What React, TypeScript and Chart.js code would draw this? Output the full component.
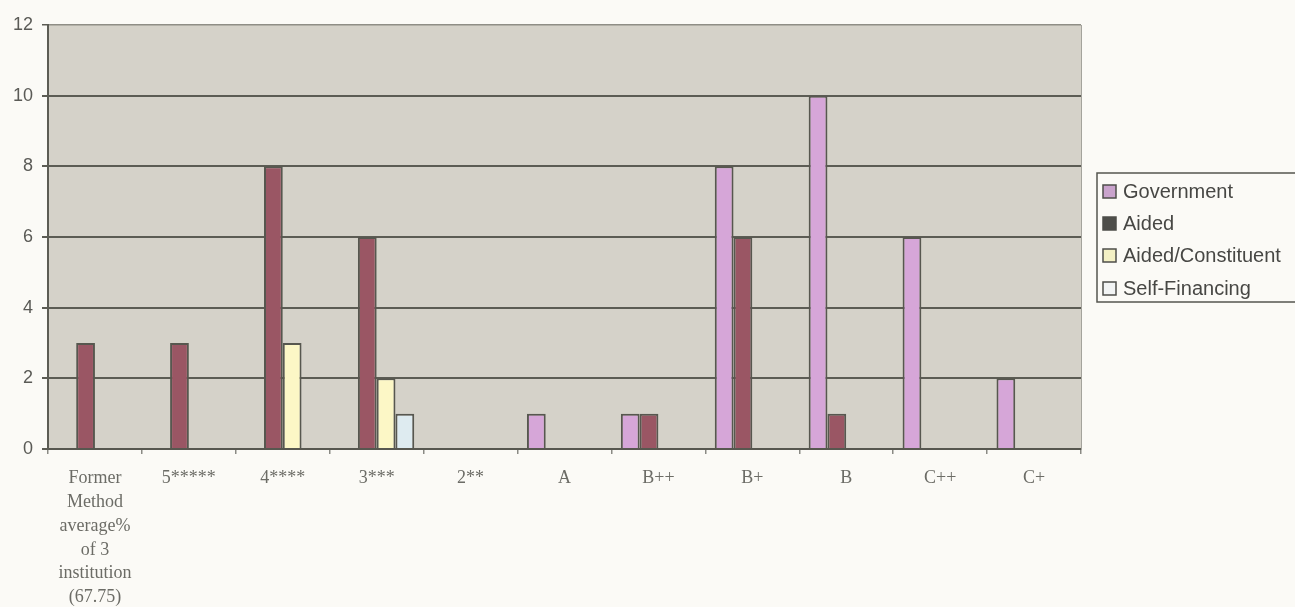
import React, { useEffect, useRef } from "react";
import { Chart, registerables } from "chart.js";

Chart.register(...registerables);

const categories: (string | string[])[] = [
  ["Former", "Method", "average%", "of 3", "institution", "(67.75)"],
  "5*****",
  "4****",
  "3***",
  "2**",
  "A",
  "B++",
  "B+",
  "B",
  "C++",
  "C+",
];

const government = [0, 0, 0, 0, 0, 1, 1, 8, 10, 6, 2];
const aided = [3, 3, 8, 6, 0, 0, 1, 6, 1, 0, 0];
const aidedConstituent = [0, 0, 3, 2, 0, 0, 0, 0, 0, 0, 0];
const selfFinancing = [0, 0, 0, 1, 0, 0, 0, 0, 0, 0, 0];

const yTicks = [0, 2, 4, 6, 8, 10, 12];

const seriesNames = ["Government", "Aided", "Aided/Constituent", "Self-Financing"];
const seriesColors = ["#d6a6d8", "#9a5664", "#fcf7c6", "#deebf0"];
const legendMarkerColors = ["#c9a3cc", "#4e4e4a", "#f3f0c4", "#f2f4f4"];

const nz = (arr: number[]) => arr.map((v) => (v === 0 ? null : v));

export default function App() {
  const ref = useRef<HTMLCanvasElement | null>(null);

  useEffect(() => {
    if (!ref.current) return;

    const plotBg = {
      id: "plotBg",
      beforeDraw(chart: any) {
        const { ctx, chartArea } = chart;
        ctx.save();
        ctx.fillStyle = "#d5d2c9";
        ctx.fillRect(chartArea.left, chartArea.top, chartArea.right - chartArea.left, chartArea.bottom - chartArea.top);
        ctx.restore();
      },
      afterDraw(chart: any) {
        const { ctx, chartArea } = chart;
        ctx.save();
        ctx.strokeStyle = "#a4a39c";
        ctx.lineWidth = 1;
        ctx.beginPath();
        ctx.moveTo(chartArea.right + 0.5, chartArea.top);
        ctx.lineTo(chartArea.right + 0.5, chartArea.bottom);
        ctx.stroke();

        const x0 = 1097;
        const y0 = 173;
        const y1 = 302;
        ctx.strokeStyle = "#55554f";
        ctx.lineWidth = 1.5;
        ctx.strokeRect(x0, y0, 1300 - x0, y1 - y0);
        ctx.font = "20px 'Liberation Sans', Arial, sans-serif";
        ctx.textBaseline = "middle";
        const ys = [191, 223, 255, 288];
        chart.data.datasets.forEach((ds: any, i: number) => {
          const y = ys[i];
          ctx.fillStyle = legendMarkerColors[i];
          ctx.fillRect(x0 + 6, y - 6, 13, 13);
          ctx.strokeStyle = "#4e4e4a";
          ctx.lineWidth = 1.5;
          ctx.strokeRect(x0 + 6, y - 6, 13, 13);
          ctx.fillStyle = "#474744";
          ctx.fillText(ds.label, x0 + 26, y + 1);
        });
        ctx.restore();
      },
    };

    const chart = new Chart(ref.current, {
      type: "bar",
      data: {
        labels: categories,
        datasets: [
          { label: seriesNames[0], data: nz(government), backgroundColor: seriesColors[0] },
          { label: seriesNames[1], data: nz(aided), backgroundColor: seriesColors[1] },
          { label: seriesNames[2], data: nz(aidedConstituent), backgroundColor: seriesColors[2] },
          { label: seriesNames[3], data: nz(selfFinancing), backgroundColor: seriesColors[3] },
        ].map((d) => ({
          ...d,
          borderColor: "#57574f",
          borderWidth: 2,
          categoryPercentage: 0.8,
          barPercentage: 1.0,
        })),
      },
      options: {
        animation: false,
        responsive: false,
        maintainAspectRatio: false,
        layout: { padding: { left: 0, right: 214, top: 25, bottom: 0 } },
        plugins: {
          legend: { display: false },
          tooltip: { enabled: false },
        },
        scales: {
          x: {
            afterFit(scale: any) {
              scale.height = 158;
            },
            grid: {
              drawOnChartArea: false,
              drawTicks: true,
              tickLength: 5,
              color: "#8a8a84",
              lineWidth: 1.5,
              offset: true,
            },
            border: { display: true, color: "#57574f", width: 2 },
            ticks: {
              color: "#6c6c66",
              padding: 12,
              maxRotation: 0,
              autoSkip: false,
              font: { family: "'Liberation Serif', 'Times New Roman', serif", size: 18, lineHeight: 1.33 },
            },
          },
          y: {
            min: 0,
            max: 12,
            afterFit(scale: any) {
              scale.width = 48;
            },
            afterBuildTicks(scale: any) {
              scale.ticks = yTicks.map((v) => ({ value: v }));
            },
            grid: {
              color: (ctx: any) => (ctx.tick && ctx.tick.value === 12 ? "#8f8e86" : "#5c5c54"),
              lineWidth: (ctx: any) => (ctx.tick && ctx.tick.value === 12 ? 1.5 : 2),
              tickLength: 6,
              tickColor: "#5c5c54",
            },
            border: { display: true, color: "#5c5c54", width: 2 },
            ticks: {
              color: "#5a5a56",
              padding: 9,
              font: { family: "'Liberation Sans', Arial, sans-serif", size: 18 },
            },
          },
        },
      },
      plugins: [plotBg],
    });

    return () => chart.destroy();
  }, []);

  return (
    <div
      style={{
        position: "fixed",
        left: 0,
        top: 0,
        width: 1295,
        height: 607,
        background: "#fbfaf6",
      }}
    >
      <canvas ref={ref} width={1295} height={607} style={{ width: 1295, height: 607, display: "block" }} />
    </div>
  );
}
